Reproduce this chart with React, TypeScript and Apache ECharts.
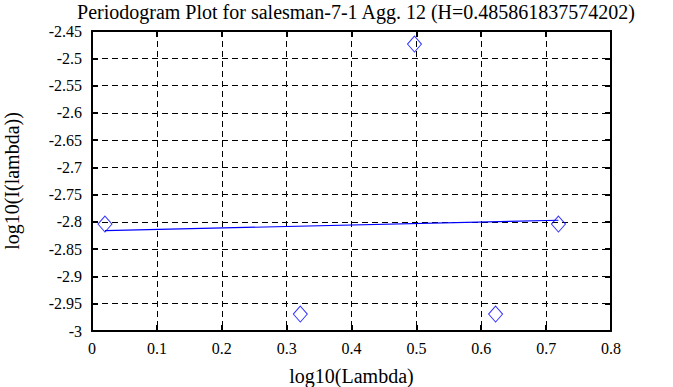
import React, { useEffect, useRef } from "react";
import * as echarts from "echarts";

const titleText = "Periodogram Plot for salesman-7-1 Agg. 12 (H=0.485861837574202)";
const xName = "log10(Lambda)";
const yName = "log10(I(lambda))";
const logLambda = [0.0200, 0.3211, 0.4971, 0.6221, 0.7190];
const logI = [-2.804, -2.969, -2.474, -2.969, -2.804];
const fitX = [0.0200, 0.7190];
const fitY = [-2.816, -2.797];

const fmt = (v: number) => String(+v.toFixed(2));

export default function App() {
  const ref = useRef<HTMLDivElement>(null);
  useEffect(() => {
    const chart = echarts.init(ref.current!, null, { renderer: "svg" });
    const font = "Liberation Serif";
    const line = { show: true, onZero: false, lineStyle: { color: "#000", width: 2 } };
    const tick = { show: true, inside: true, length: 6, lineStyle: { color: "#000", width: 2 } };
    const dashed = { show: true, lineStyle: { color: "#000", width: 1, type: [6, 4] } };
    chart.setOption({
      animation: false,
      backgroundColor: "#fff",
      textStyle: { fontFamily: font },
      title: {
        text: titleText,
        left: 351,
        textAlign: "center",
        top: -3,
        textStyle: { fontFamily: font, fontSize: 20, fontWeight: "normal", color: "#000" },
      },
      grid: { left: 92, right: 62, top: 31, bottom: 56, outerBoundsMode: "none", containLabel: false },
      xAxis: [
        {
          type: "value",
          min: 0,
          max: 0.8,
          interval: 0.1,
          position: "bottom",
          name: xName,
          nameLocation: "middle",
          nameGap: 35,
          nameMoveOverlap: false,
          nameTextStyle: { fontFamily: font, fontSize: 20, color: "#000" },
          axisLine: line,
          axisTick: tick,
          axisLabel: { show: true, fontFamily: font, fontSize: 16, color: "#000", margin: 9, formatter: fmt },
          splitLine: dashed,
        },
        {
          type: "value",
          min: 0,
          max: 0.8,
          interval: 0.1,
          position: "top",
          axisLine: line,
          axisTick: tick,
          axisLabel: { show: false },
          splitLine: { show: false },
        },
      ],
      yAxis: [
        {
          type: "value",
          min: -3,
          max: -2.45,
          interval: 0.05,
          position: "left",
          name: yName,
          nameLocation: "middle",
          nameGap: 70,
          nameMoveOverlap: false,
          nameTextStyle: { fontFamily: font, fontSize: 20, color: "#000" },
          axisLine: line,
          axisTick: tick,
          axisLabel: { show: true, fontFamily: font, fontSize: 16, color: "#000", margin: 10, formatter: fmt },
          splitLine: dashed,
        },
        {
          type: "value",
          min: -3,
          max: -2.45,
          interval: 0.05,
          position: "right",
          axisLine: line,
          axisTick: tick,
          axisLabel: { show: false },
          splitLine: { show: false },
        },
      ],
      series: [
        {
          type: "line",
          data: fitX.map((x, i) => [x, fitY[i]]),
          symbol: "none",
          lineStyle: { color: "#0000ff", width: 1.2 },
          z: 3,
        },
        {
          type: "scatter",
          data: logLambda.map((x, i) => [x, logI[i]]),
          symbol: "diamond",
          symbolSize: [14, 16],
          itemStyle: { color: "rgba(255,255,255,0)", borderColor: "#0000ff", borderWidth: 1 },
          z: 4,
        },
      ],
    });
    return () => chart.dispose();
  }, []);
  return <div ref={ref} style={{ width: 673, height: 387, position: "absolute", left: 0, top: 0 }} />;
}
